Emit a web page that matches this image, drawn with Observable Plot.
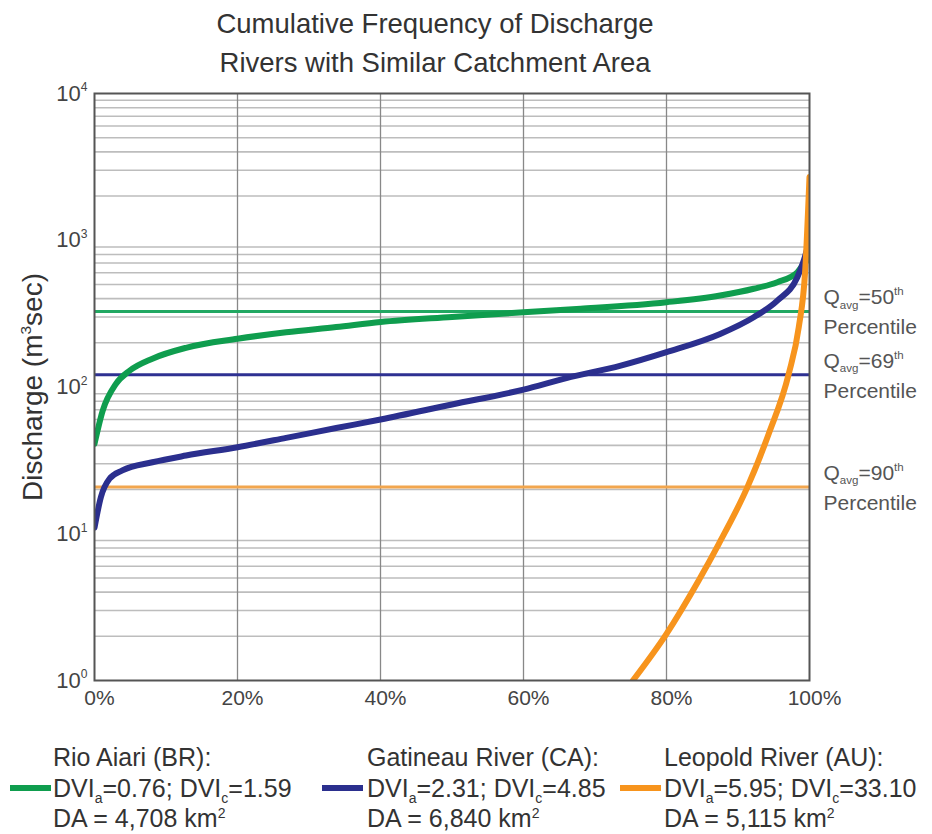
<!DOCTYPE html>
<html><head><meta charset="utf-8">
<script src="https://cdn.jsdelivr.net/npm/d3@7"></script>
<script src="https://cdn.jsdelivr.net/npm/@observablehq/plot@0.6"></script>
<style>
html,body{margin:0;padding:0;background:#fff;}
body{width:932px;height:834px;position:relative;overflow:hidden;font-family:"Liberation Sans",Arial,Helvetica,sans-serif;color:#333;}
#title{position:absolute;left:0;width:870px;top:4px;text-align:center;font-size:27.5px;line-height:39px;color:#333;}
#chart{position:absolute;left:0;top:80px;}
.leg{position:absolute;top:742px;font-size:25px;line-height:30.5px;color:#333;white-space:nowrap;}
.sw{position:absolute;height:6px;width:41px;top:785px;}
.leg sub,.leg sup{font-size:14px;line-height:0;}
</style></head><body>
<div id="title">Cumulative Frequency of Discharge<br>Rivers with Similar Catchment Area</div>
<div id="chart"></div>
<div id="legend"></div>
<script>
// ---- data ----
const percentTicks = [0, 20, 40, 60, 80, 100];
const decadeTicks = [1, 10, 100, 1000, 10000];
const rivers = ["Rio Aiari (BR)", "Gatineau River (CA)", "Leopold River (AU)"];
const riverColors = ["#0f9d4e", "#2b2f8e", "#f7941d"];
const ruleColors = ["#22a862", "#2e3192", "#f2a64e"];
const dviA = ["0.76", "2.31", "5.95"];
const dviC = ["1.59", "4.85", "33.10"];
const drainageArea = ["4,708", "6,840", "5,115"];
const qavgValues = [327, 121, 20.8];
const qavgPercentile = ["50", "69", "90"];

const rioAiariPct = [0, 1.15, 3, 4.9, 8.1, 12.8, 20, 26.8, 33.8, 40, 50, 60, 68, 80, 87.5, 92.2, 95.5, 98.3, 99.2, 100];
const rioAiariQ   = [41, 69, 105, 129, 156, 185, 213, 236, 256, 277, 300, 323, 341, 378, 420, 467, 518, 605, 690, 760];

const gatineauPct = [0, 0.9, 2.1, 3.9, 8.1, 12.8, 20, 26.8, 33.8, 40, 50, 60, 66, 73.6, 80, 87.5, 92.2, 95.5, 98.3, 99.2, 100];
const gatineauQ   = [11, 17.8, 23.7, 27, 30.7, 34.1, 38.9, 45, 52.5, 60, 76, 96, 115, 140, 173, 230, 299, 388, 560, 728, 1000];

const leopoldPct = [75.3, 80, 84.5, 87.3, 91.3, 94.3, 97.1, 98.5, 99.4, 100];
const leopoldQ   = [1, 2.08, 4.8, 8.5, 20.7, 48, 123, 256, 622, 2700];

// ---- tables built from arrays ----
const series = [
  rioAiariPct.map((p, i) => ({p, q: rioAiariQ[i]})),
  gatineauPct.map((p, i) => ({p, q: gatineauQ[i]})),
  leopoldPct.map((p, i) => ({p, q: leopoldQ[i]}))
];
const annotations = qavgValues.map((q, i) => ({q, pct: qavgPercentile[i]}));
const minorTicks = [];
for (const d of decadeTicks.slice(0, -1)) for (let m = 2; m <= 9; m++) minorTicks.push(d * m);

const plot = Plot.plot({
  width: 932,
  height: 640,
  marginTop: 13,
  marginBottom: 40,
  marginLeft: 94,
  marginRight: 123,
  style: {fontFamily: "Liberation Sans, Arial, sans-serif", fontSize: "20px", background: "white", overflow: "visible"},
  x: {domain: [0, 100]},
  y: {type: "log", domain: [1, 10000]},
  marks: [
    Plot.gridY({ticks: minorTicks, stroke: "#bdbdbd", strokeOpacity: 1, strokeWidth: 1.6}),
    Plot.gridX({ticks: percentTicks.slice(1, -1), stroke: "#888", strokeOpacity: 1, strokeWidth: 1.3}),
    ...qavgValues.map((q, i) => Plot.ruleY([q], {stroke: ruleColors[i], strokeWidth: 3})),
    ...series.map((s, i) => Plot.line(s, {x: "p", y: "q", stroke: riverColors[i], strokeWidth: 6, curve: "monotone-x", clip: true})),
    Plot.frame({stroke: "#555", strokeWidth: 2}),
    Plot.axisX({ticks: percentTicks, tickFormat: d => d + "%", tickSize: 0, tickPadding: 10, fontSize: 21, color: "#444", label: null, dx: 5}),
    Plot.axisY({ticks: decadeTicks, tickFormat: d => "10^{" + Math.round(Math.log10(d)) + "}", tickSize: 0, tickPadding: 7, fontSize: 22, color: "#444", label: null}),
    Plot.text(["Discharge (m^{3}sec)"], {text: d => d, frameAnchor: "left", dx: -61, rotate: -90, textAnchor: "middle", lineAnchor: "middle", fontSize: 28, fill: "#333"}),
    Plot.text(annotations, {x: () => 100, y: "q", text: d => "Q_{avg}=" + d.pct + "^{th}", dx: 14, dy: -14, textAnchor: "start", fontSize: 21, fill: "#555"}),
    Plot.text(annotations, {x: () => 100, y: "q", text: () => "Percentile", dx: 14, dy: 16, textAnchor: "start", fontSize: 21, fill: "#555"})
  ]
});
document.getElementById("chart").appendChild(plot);

function richify(root) {
  root.querySelectorAll("text").forEach(t => {
    const s = t.textContent;
    if (!/[\^_]\{/.test(s)) return;
    const fs = parseFloat(getComputedStyle(t).fontSize) || 20;
    while (t.firstChild) t.removeChild(t.firstChild);
    const parts = s.split(/(\^\{[^}]*\}|_\{[^}]*\})/).filter(p => p !== "");
    let shift = 0;
    for (const p of parts) {
      const ts = document.createElementNS("http://www.w3.org/2000/svg", "tspan");
      let target = 0, txt = p, small = false;
      if (p.startsWith("^{")) { target = -0.42 * fs; txt = p.slice(2, -1); small = true; }
      else if (p.startsWith("_{")) { target = 0.22 * fs; txt = p.slice(2, -1); small = true; }
      if (target - shift !== 0) ts.setAttribute("dy", target - shift);
      shift = target;
      if (small) ts.setAttribute("font-size", 0.55 * fs);
      ts.textContent = txt;
      t.appendChild(ts);
    }
  });
}
richify(plot);

// ---- legend ----
const legend = document.getElementById("legend");
const legPos = [[10, 53], [322, 367], [620, 664]];
rivers.forEach((r, i) => {
  const sw = document.createElement("div");
  sw.className = "sw";
  sw.style.left = legPos[i][0] + "px";
  sw.style.background = riverColors[i];
  legend.appendChild(sw);
  const t = document.createElement("div");
  t.className = "leg";
  t.style.left = legPos[i][1] + "px";
  t.innerHTML = r + ":<br>DVI<sub>a</sub>=" + dviA[i] + "; DVI<sub>c</sub>=" + dviC[i] + "<br>DA = " + drainageArea[i] + " km<sup>2</sup>";
  legend.appendChild(t);
});
</script>
</body></html>
